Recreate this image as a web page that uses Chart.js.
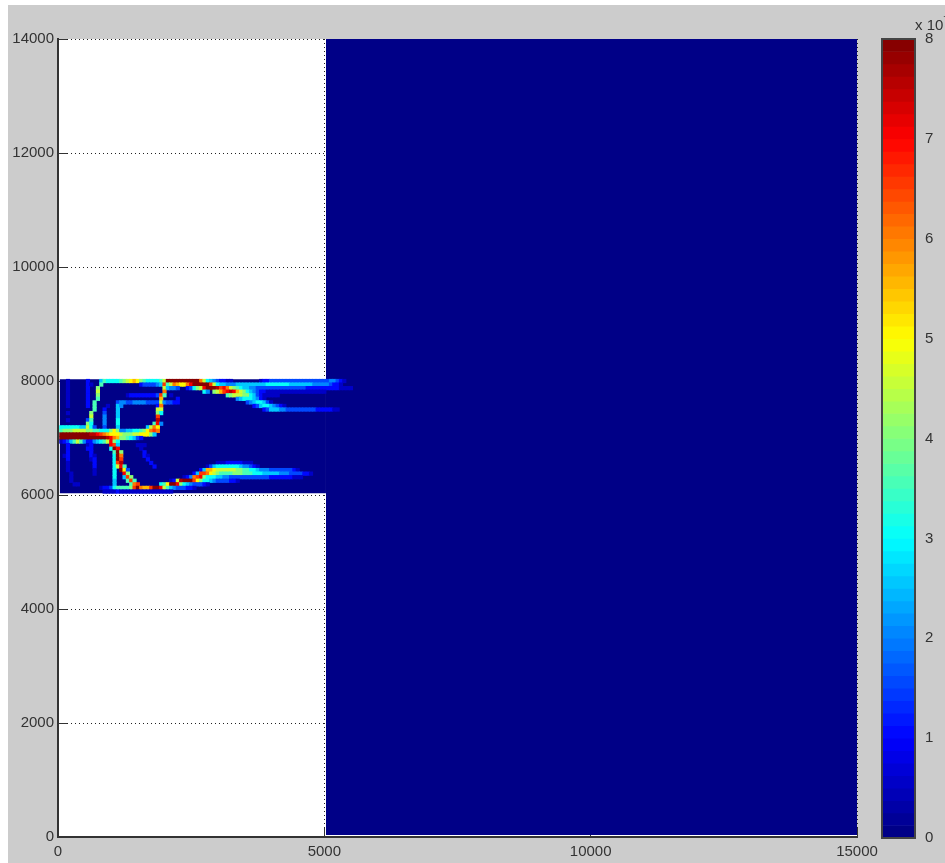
<!DOCTYPE html>
<html><head><meta charset="utf-8">
<style>
html,body{margin:0;padding:0;background:#fff;width:945px;height:863px;overflow:hidden}
#bg{position:absolute;left:8px;top:5px;width:937px;height:858px;background:#cccccc}
canvas{position:absolute;left:0;top:0}
#exp{position:absolute;left:915px;top:14px;width:30px;height:22px;overflow:hidden;font:15px "Liberation Sans",sans-serif;color:#333;white-space:nowrap}
#exp sup{font-size:11px}
</style>
<script src="https://cdn.jsdelivr.net/npm/chart.js@4"></script>
</head><body>
<div id="bg"></div>
<canvas id="main" width="945" height="863"></canvas>
<canvas id="bar" width="945" height="863"></canvas>
<div id="exp">x 10<sup>7</sup></div>
<script>
// tick labels
const xTicks=[0,5000,10000,15000];
const yTicks=[0,2000,4000,6000,8000,10000,12000,14000];
const colorbarTicks=[0,1,2,3,4,5,6,7,8];
// field: runs of [firstColumn, levels...] per row from the top, level unit = 0.5e7
const row00=[[2,1],[8,2],[12,5,7,6,6,6,6,7,8,9,10,11,10,8,7,6,6,6,6,7,9,16,16,16,16,16,16,16,16,16,16,12,9,6,5,4,3,2,2,1,1],[60,1,2,2,3,3,3,3,3,3,3,3,3,3,3,3,3,3,3,3,3,3,4,4,3,2,1]];
const row01=[[2,1],[8,2,1],[12,7],[24,2,3,3,3,3,4,5,13,7,9,12,11,10,10,12,14,16,16,16,16,16,13,9,6,5,5,4,4,4,5,5,5,5,5,5,5,5,5,6,6,6,6,6,6,6,5,5,5,5,5,5,5,4,4,4,4,4,3,2,2,1]];
const row02=[[2,1],[8,2],[11,8],[31,9,5,4,4,3],[38,2,3,6,8,9,14,16,16,16,15,13,14,12,9,8,7,6,5,5,4,4,3,3,3,3,3,3,3,3,3,3,3,3,3,3,3,2,2,2,2,2,2,2,2,2,2,1,1,1,1]];
const row03=[[2,1],[8,2],[11,9],[31,12],[43,6,4,0,8,9,11,13,14,15,14,11,9,8,6,5,4,3,2,2,1,1,1,1,1,1,1,1,1,1,1,1,1,1,1,1,1,1]];
const row04=[[2,1],[8,2],[11,8],[20,1,2,2,2,2,2,2,2,2,3,13,7,0,1],[50,7,8,9,9,9,8,8,6,5,3,2,1,1,1,1,1]];
const row05=[[2,1],[8,2],[11,7],[30,11],[35,2],[53,4,5,6,6,6,5,4,2,1]];
const row06=[[2,1],[8,2],[10,7],[17,3,4,4,3,3,4,4,4,4,3,3,3,3,9,4,3,3,2,2],[56,3,4,5,6,6,5,3,1]];
const row07=[[2,1],[8,2],[10,7],[14,1],[17,5,4],[29,2,12],[58,2,3,5,6,6,5,4,3,2,1]];
const row08=[[10,7],[13,2],[17,5],[29,9,9],[61,2,3,5,5,5,4,4,3,3,3,3,3,3,3,3,3,2,2,2,2,2,1,1]];
const row09=[[2,1],[9,8],[13,3],[17,5],[29,8,6]];
const row10=[[9,9],[13,4],[17,5],[29,13]];
const row11=[[2,1],[8,3,7],[13,4],[17,6],[29,15]];
const row12=[[8,8,6],[13,4],[17,6],[28,7,14,4]];
const row13=[[0,6,6,6,6,6,6,5,5,9,6,3],[13,3],[17,5],[26,5,9,12,10]];
const row14=[[0,7,8,8,8,9,9,9,9,8,8,7,7,6,6,6,8,10,8,4,4,5,5,6,6,7,8,10,12,13,12]];
const row15=[[0,16,16,16,16,16,16,16,16,16,15,15,14,13,12,11,10,10,10,9,8,8,8,9,9,10,10,10,8,5]];
const row16=[[0,16,16,16,16,16,16,16,16,16,16,16,16,16,16,15,14,12,11,8,8,7,6,5,3,2]];
const row17=[[0,1,2,3,5,7,9,7,4,2,2,4,5,6,7,9,14,8,6]];
const row18=[[2,2],[8,1,2],[15,14,13,5],[23,1,1,1]];
const row19=[[2,2],[8,2,2],[15,6,16,14],[24,1]];
const row20=[[2,2],[9,2],[16,7,16,8],[25,2]];
const row21=[[1,1,2],[9,2,1],[16,6,16,12],[25,2,1]];
const row22=[[2,2],[9,1,2],[16,6,16,13],[26,2]];
const row23=[[2,1],[10,2],[16,6,13,15],[27,2],[47,1,1,1,2,2,2,2,2,1,1,1]];
const row24=[[2,1],[10,2],[16,6,9,14,7],[28,2],[44,1,3,5,6,6,6,6,6,6,6,5,4,4,3,2,1]];
const row25=[[2,1],[10,1],[16,6,0,16,10,3],[42,2,5,11,11,10,9,9,9,9,9,9,8,8,7,7,6,6,5,4,4,4,3,3,3,3,3,3,3,2,1]];
const row26=[[3,1],[10,1],[16,6,0,0,14,8],[40,2,5,13,13,12,10,9,8,7,7,7,7,8,8,8,7,7,7,6,6,6,5,5,5,5,5,4,4,4,3,3,3,3,2,2,1]];
const row27=[[3,1],[16,6,0,0,5,13,8],[37,1,2,4,12,13,14,8,6,6,6,5,5,4,4,3,3,3,3,3,3,3,3,3,3,3,3,2,2,2,2,2,2,2,1,1,1]];
const row28=[[3,1],[16,5,0,0,0,7,13,7],[33,1,2,9,15,16,16,16,13,10,8,6,6,5,4,3,3,3,3,2,2,1]];
const row29=[[4,1,1],[16,5,0,0,0,0,7,12,13],[30,6,7,10,16,16,14,8,6,5,4,3,3,3,2,1]];
const row30=[[12,1,2,2,3,6,7,7,7,7,8,13,16,12,11,11,13,16,16,14,9,7,5,4,3,3,3,2,2,1]];
const row31=[[13,1,1,1,1,2,1,1,1,1,1,1,1,1,1,1,1,1,1,1,1,1]];
const fieldRows=[row00,row01,row02,row03,row04,row05,row06,row07,row08,row09,row10,row11,row12,row13,row14,row15,row16,row17,row18,row19,row20,row21,row22,row23,row24,row25,row26,row27,row28,row29,row30,row31];

const clamp=v=>Math.max(0,Math.min(1,v));
function jet(t){
  const q=Math.floor(t*64)/64+1/128, c=Math.min(q,1-1/128);
  const r=clamp(Math.min(4*c-1.5,-4*c+4.5)),g=clamp(Math.min(4*c-.5,-4*c+3.5)),b=clamp(Math.min(4*c+.5,-4*c+2.5));
  return `rgb(${Math.round(r*255)},${Math.round(g*255)},${Math.round(b*255)})`;
}
const cellSize=62.5, gridX0=31, gridTop=8031, gridBottom=6031;
const cells=[];
fieldRows.forEach((runs,r)=>runs.forEach(run=>{
  run.slice(1).forEach((level,k)=>{
    if(!level) return;
    const x0=gridX0+(run[0]+k)*cellSize, yTop=gridTop-r*cellSize;
    cells.push({x:x0+cellSize/2,y:[yTop-cellSize,yTop],v:level/2});
  });
}));
const font={family:'"Liberation Sans",Arial,sans-serif',size:15};
const plain=v=>String(v);
const BASE=jet(0);
const plainOpts={responsive:false,animation:false,plugins:{legend:{display:false},tooltip:{enabled:false}}};
new Chart(document.getElementById('main'),{
  type:'bar',
  data:{datasets:[
    {type:'line',order:3,data:[{x:5031,y:14000},{x:15000,y:14000}],fill:{value:35},backgroundColor:BASE,borderWidth:0,pointRadius:0},
    {type:'line',order:2,data:[{x:gridX0,y:gridTop},{x:5031,y:gridTop}],fill:{value:gridBottom},backgroundColor:BASE,borderWidth:0,pointRadius:0},
    {type:'bar',order:1,data:cells,barThickness:3.5,borderWidth:0,backgroundColor:c=>c.raw?jet(Math.min(c.raw.v/8,.999)):BASE}
  ]},
  options:{...plainOpts,
    layout:{padding:{top:39,right:88,left:0,bottom:0}},
    scales:{
      x:{type:'linear',offset:false,min:0,max:15000,afterFit:s=>{s.height=26},afterBuildTicks:s=>{s.ticks=xTicks.map(v=>({value:v}))},
        grid:{color:'#222',lineWidth:1,offset:false,drawTicks:true,tickLength:-9,tickColor:'#333'},border:{color:'#333',width:2,dash:[1,3]},
        ticks:{color:'#333',font,padding:15,maxRotation:0,autoSkip:false,callback:plain}},
      y:{type:'linear',min:0,max:14000,afterFit:s=>{s.width=58},afterBuildTicks:s=>{s.ticks=yTicks.map(v=>({value:v}))},
        grid:{color:'#222',lineWidth:1,drawTicks:true,tickLength:-9,tickColor:'#333'},border:{color:'#333',width:2,dash:[1,3]},
        ticks:{color:'#333',font,padding:13,autoSkip:false,callback:plain}}
    }
  },
  plugins:[{id:'plotBg',beforeDraw(ch){const a=ch.chartArea,c=ch.ctx;c.save();c.fillStyle='#fff';c.fillRect(a.left,a.top,a.right-a.left,a.bottom-a.top);c.restore();}}]
});
const levels=Array.from({length:64},(_,i)=>i);
new Chart(document.getElementById('bar'),{
  type:'bar',
  data:{datasets:[{data:levels.map(i=>({x:.5,y:[i/8,(i+1)/8]})),barThickness:33,borderWidth:0,backgroundColor:c=>jet((c.dataIndex+.5)/64)}]},
  options:{...plainOpts,
    layout:{padding:{top:39,right:0,left:882,bottom:25}},
    scales:{
      x:{type:'linear',min:0,max:1,offset:false,display:false},
      y:{type:'linear',position:'right',min:0,max:8,afterFit:s=>{s.width=30},afterBuildTicks:s=>{s.ticks=colorbarTicks.map(v=>({value:v}))},
        grid:{display:false},border:{display:false},ticks:{color:'#333',font,padding:2,autoSkip:false,callback:plain}}
    }
  },
  plugins:[{id:'frame',afterDraw(ch){const a=ch.chartArea,c=ch.ctx;c.save();c.strokeStyle='#444';c.lineWidth=2;c.strokeRect(a.left,a.top,a.right-a.left,a.bottom-a.top);c.restore();}}]
});
</script>
</body></html>
